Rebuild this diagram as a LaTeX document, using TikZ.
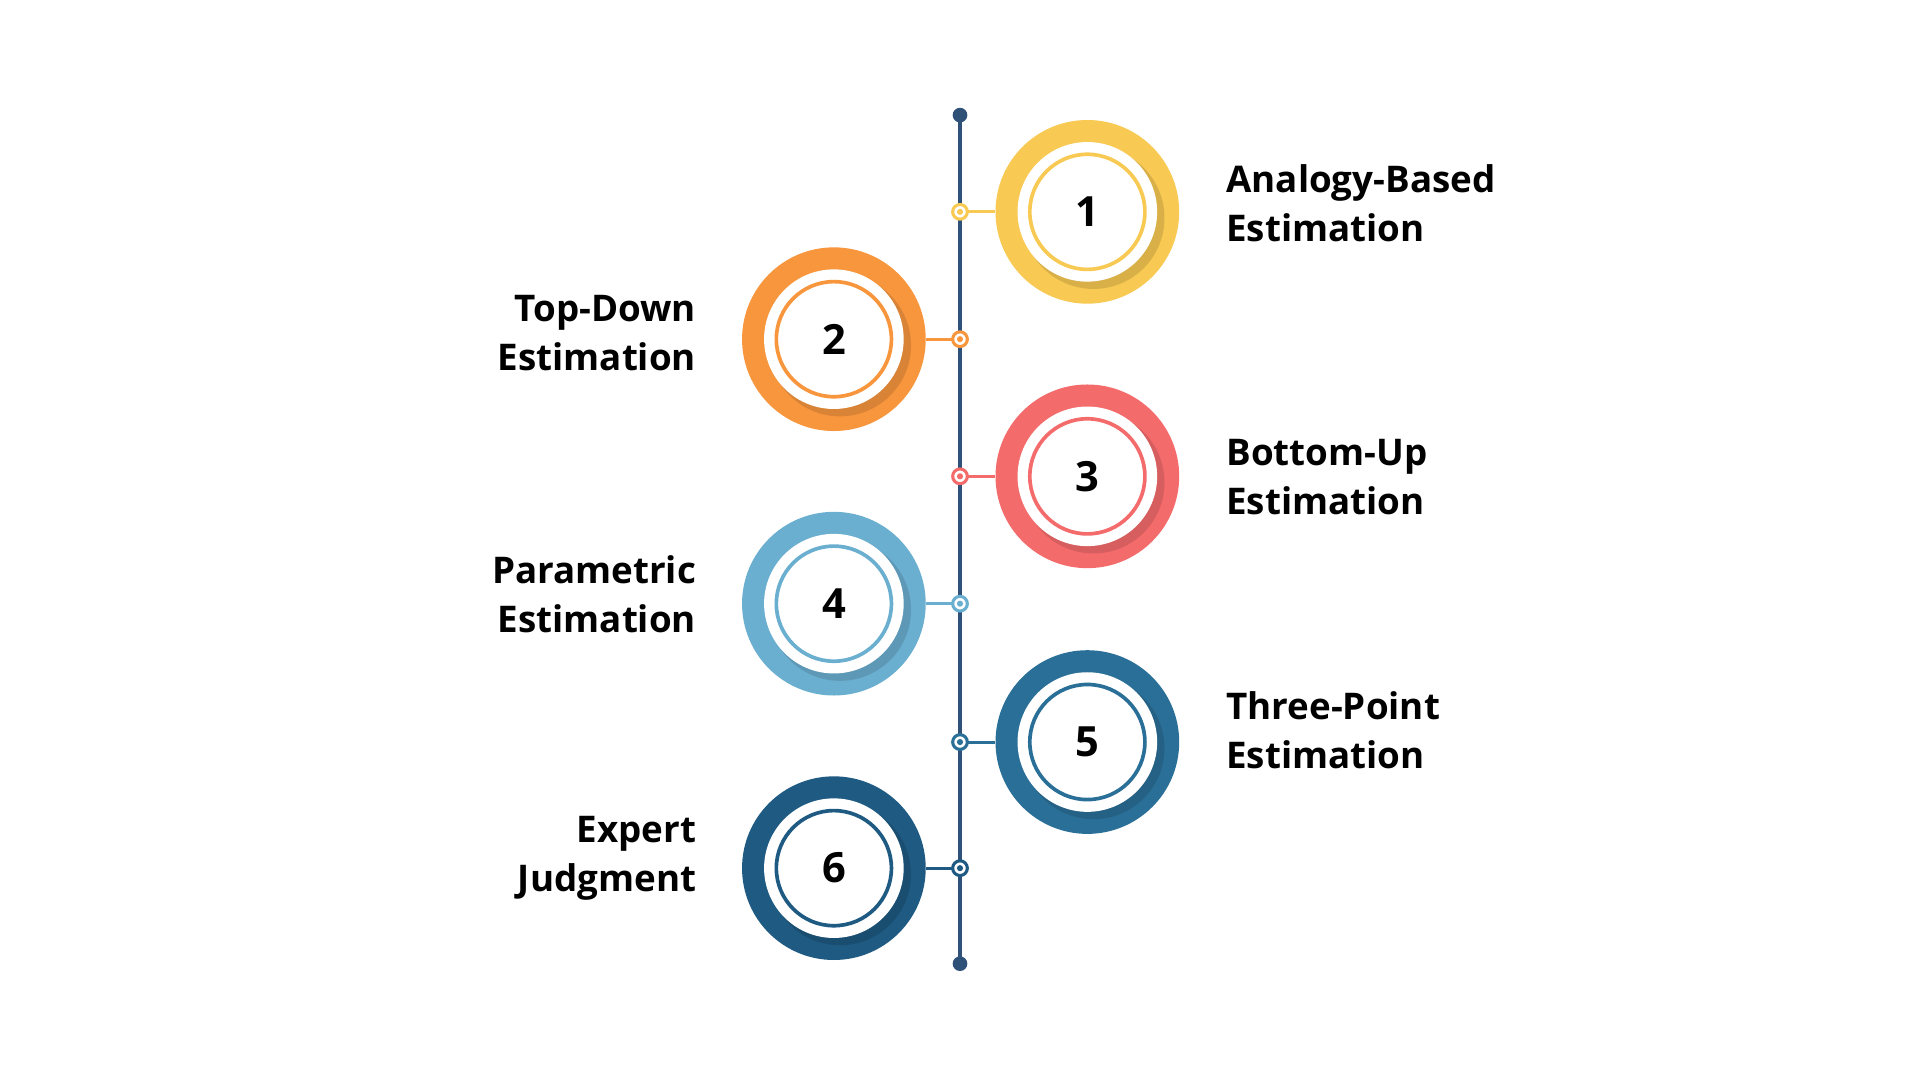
\documentclass[tikz,border=0pt]{standalone}
\usepackage{fontspec}
\setmainfont{Open Sans}
\definecolor{lc}{HTML}{2F5178}
\definecolor{c1}{HTML}{F8C953}
\definecolor{c2}{HTML}{F7963D}
\definecolor{c3}{HTML}{F46B6B}
\definecolor{c4}{HTML}{6AAED0}
\definecolor{c5}{HTML}{2A6F97}
\definecolor{c6}{HTML}{1E5A82}
\tikzset{
  lab/.style={font=\bfseries\fontsize{30}{40}\selectfont, align=left, anchor=west},
  labl/.style={font=\bfseries\fontsize{30}{40}\selectfont, align=right, anchor=east},
  num/.style={font=\bfseries\fontsize{34}{34}\selectfont},
}
\newcommand{\stepitem}[5]{% name, x, y, color, number
  \fill[#4] (#2,#3) circle (75);
  \fill[#4!65!black, opacity=0.35] (#2+5,#3+5) circle (58);
  \fill[white] (#2,#3) circle (57);
  \draw[#4, line width=3pt] (#2,#3) circle (47);
  \node[num, circle, minimum size=150] (#1) at (#2,#3) {#5};
}
\newcommand{\connect}[3]{% node, y, color
  \coordinate (k#1) at (784,#2);
  \draw[#3, line width=2.5pt] (k#1) -- (#1);
  \draw[#3, line width=2.5pt, fill=white] (k#1) circle (6);
  \fill[#3] (k#1) circle (2.5);
}
\begin{document}
\begin{tikzpicture}[x=1pt,y=-1pt]
\useasboundingbox (0,0) rectangle (1568,882);
\coordinate (top) at (784,94);
\coordinate (bot) at (784,787);
\draw[lc, line width=2.5pt] (top) -- (bot);
\fill[lc] (top) circle (6);
\fill[lc] (bot) circle (6);
\stepitem{n1}{888}{173}{c1}{1}
\stepitem{n2}{681}{277}{c2}{2}
\stepitem{n3}{888}{389}{c3}{3}
\stepitem{n4}{681}{493}{c4}{4}
\stepitem{n5}{888}{606}{c5}{5}
\stepitem{n6}{681}{709}{c6}{6}
\connect{n1}{173}{c1}
\connect{n2}{277}{c2}
\connect{n3}{389}{c3}
\connect{n4}{493}{c4}
\connect{n5}{606}{c5}
\connect{n6}{709}{c6}
\node[lab] (t1) at (998,166) {Analogy-Based\\Estimation};
\node[labl] (t2) at (572,272) {Top-Down\\Estimation};
\node[lab] (t3) at (998,390) {Bottom-Up\\Estimation};
\node[labl] (t4) at (572,485) {Parametric\\Estimation};
\node[lab] (t5) at (998,596) {Three-Point\\Estimation};
\node[labl] (t6) at (572,701) {Expert\\Judgment};
\end{tikzpicture}
\end{document}
